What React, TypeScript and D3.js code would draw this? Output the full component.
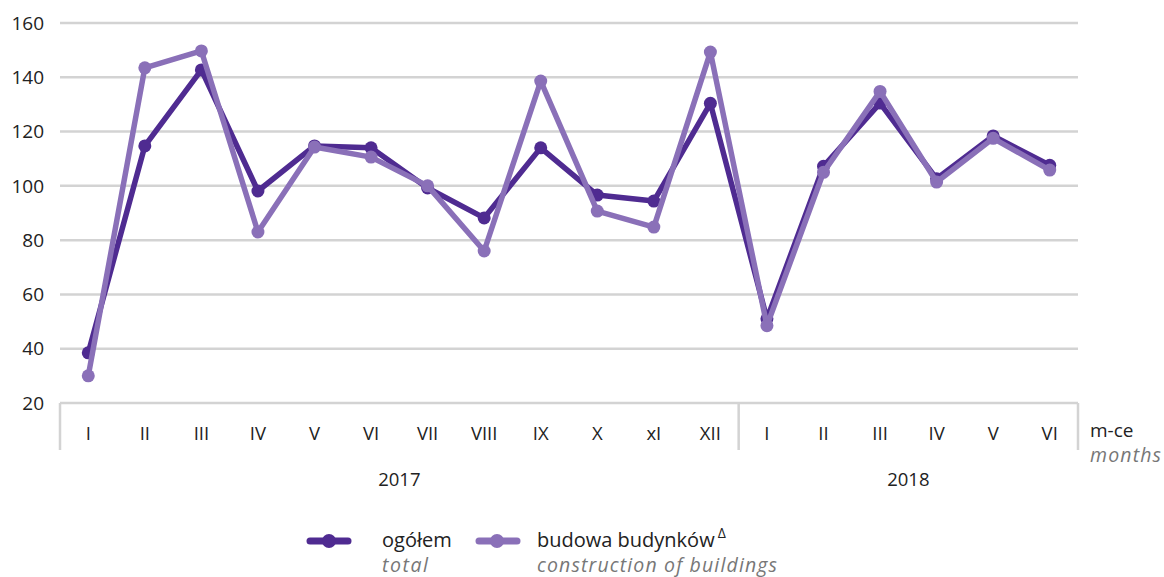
import React from "react";
import * as d3 from "d3";

const months = ["I", "II", "III", "IV", "V", "VI", "VII", "VIII", "IX", "X", "xI", "XII", "I", "II", "III", "IV", "V", "VI"];
const years = ["2017", "2018"];
const yearSpans = [12, 6];
const totalValues = [38.5, 114.7, 142.7, 98.1, 114.7, 114, 99.2, 88.2, 114, 96.6, 94.4, 130.4, 51, 107.2, 130.5, 102.6, 118.4, 107.6];
const buildingValues = [30, 143.5, 149.7, 83, 114.3, 110.6, 100, 76, 138.6, 90.7, 84.8, 149.3, 48.5, 105, 134.8, 101.4, 117.5, 105.8];
const yTicks = [20, 40, 60, 80, 100, 120, 140, 160];

const W = 1164, H = 577;
const left = 60, right = 1078, top = 23, bottom = 403;
const darkC = "#4f2b91";
const lightC = "#8a70b8";
const font = "'Open Sans', 'Noto Sans', sans-serif";

export default function App() {
  const x = d3.scaleBand<number>().domain(months.map((_, i) => i)).range([left, right]).padding(0);
  const y = d3.scaleLinear().domain([20, 160]).range([bottom, top]);
  const cx = (i: number) => (x(i) as number) + x.bandwidth() / 2;
  const line = d3.line<number>().x((_, i) => cx(i)).y((d) => y(d));

  const order = [
    { vals: totalValues, color: darkC },
    { vals: buildingValues, color: lightC },
  ];

  let acc = 0;
  const sepIdx = [0];
  yearSpans.forEach((s) => { acc += s; sepIdx.push(acc); });

  return (
    <svg width={W} height={H} style={{ display: "block", position: "absolute", left: 0, top: 0 }} fontFamily={font}>
      <rect width={W} height={H} fill="#fff" />
      {yTicks.map((t) => (
        <g key={t}>
          {t > 20 && <line x1={left} x2={right} y1={y(t)} y2={y(t)} stroke="#d3d3d3" strokeWidth={2.5} />}
          <text x={44} y={y(t)} dy="0.35em" textAnchor="end" fontSize={19} fill="#222">{t}</text>
        </g>
      ))}
      <line x1={left} x2={right} y1={bottom} y2={bottom} stroke="#d3d3d3" strokeWidth={2.5} />
      {sepIdx.map((k, j) => {
        const xx = k === months.length ? right : (x(k) as number);
        return <line key={j} x1={xx} x2={xx} y1={bottom} y2={450} stroke="#d3d3d3" strokeWidth={2.5} />;
      })}
      {months.map((m, i) => (
        <text key={i} x={cx(i)} y={434} dy="0.35em" textAnchor="middle" fontSize={18.5} fill="#222">{m}</text>
      ))}
      {years.map((yr, j) => {
        const a = x(sepIdx[j]) as number;
        const b = sepIdx[j + 1] === months.length ? right : (x(sepIdx[j + 1]) as number);
        return <text key={yr} x={(a + b) / 2} y={480} dy="0.35em" textAnchor="middle" fontSize={18.5} fill="#222">{yr}</text>;
      })}
      <text x={1090} y={430} dy="0.35em" fontSize={19} fill="#222">m-ce</text>
      <text x={1090} y={455} dy="0.35em" fontSize={19.5} fill="#777" fontStyle="italic" textLength={71} lengthAdjust="spacing">months</text>

      {order.map((s, k) => (
        <g key={k}>
          <path d={line(s.vals) as string} fill="none" stroke={s.color} strokeWidth={5.5} strokeLinejoin="round" />
          {s.vals.map((v, i) => (
            <circle key={i} cx={cx(i)} cy={y(v)} r={6.5} fill={s.color} />
          ))}
        </g>
      ))}

      <g>
        <line x1={310} x2={348} y1={541} y2={541} stroke={darkC} strokeWidth={7} strokeLinecap="round" />
        <circle cx={329} cy={541} r={7} fill={darkC} />
        <text x={382} y={540} dy="0.35em" fontSize={20} fill="#222">ogółem</text>
        <text x={382} y={565} dy="0.35em" fontSize={19.5} fill="#777" fontStyle="italic" textLength={46} lengthAdjust="spacing">total</text>
        <line x1={479} x2={517} y1={541} y2={541} stroke={lightC} strokeWidth={7} strokeLinecap="round" />
        <circle cx={497} cy={541} r={7} fill={lightC} />
        <text x={537} y={540} dy="0.35em" fontSize={20} fill="#222">budowa budynków<tspan fontSize={14} dy="-9" dx="3">Δ</tspan></text>
        <text x={537} y={565} dy="0.35em" fontSize={19.5} fill="#777" fontStyle="italic" textLength={240} lengthAdjust="spacing">construction of buildings</text>
      </g>
    </svg>
  );
}
